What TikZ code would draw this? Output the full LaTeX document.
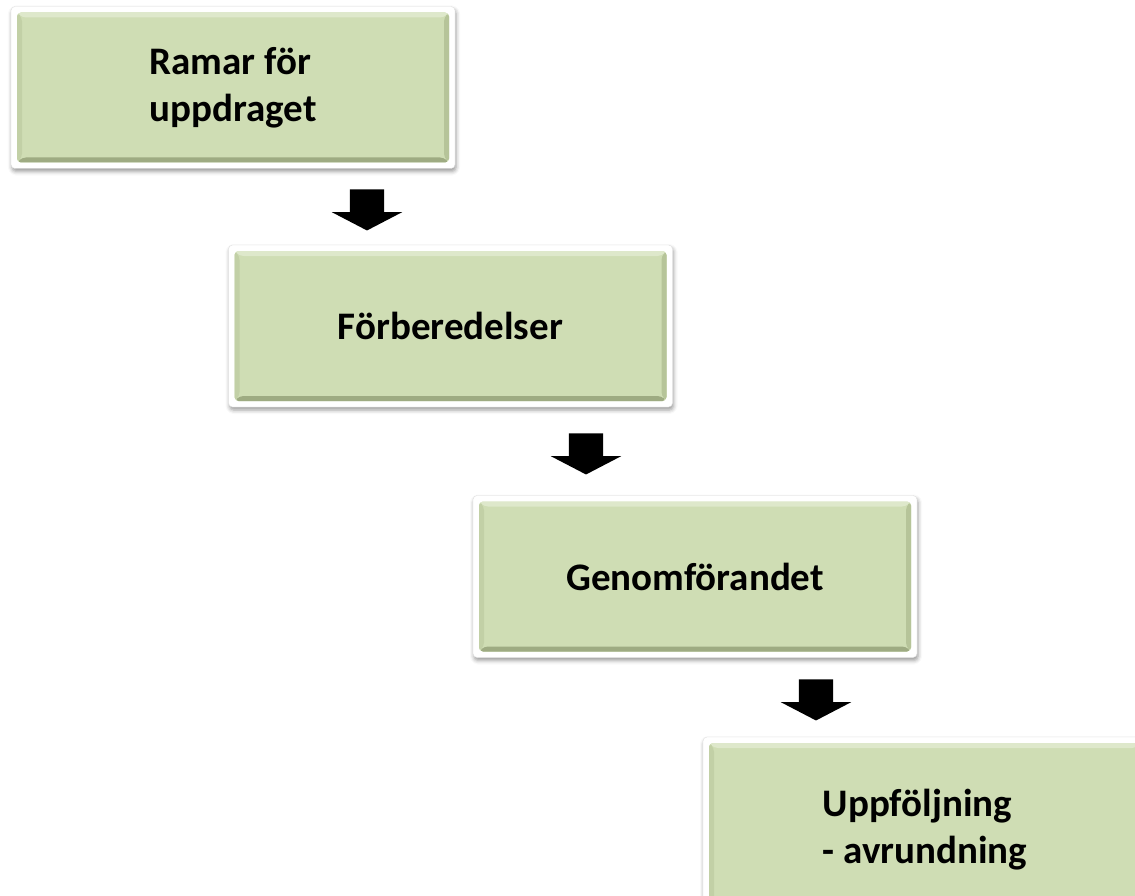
\documentclass[tikz,border=0pt]{standalone}
\usepackage{fontspec}
\setmainfont{Carlito}
\usepackage{xcolor}
\usepackage{tikz}
\usetikzlibrary{calc,shapes.arrows,shadows.blur}

\definecolor{boxgreen}{RGB}{207,221,180}
\definecolor{bevellight}{RGB}{222,232,203}
\definecolor{bevelleft}{RGB}{194,208,166}
\definecolor{bevelright}{RGB}{182,196,153}
\definecolor{beveldark}{RGB}{158,171,130}

\begin{document}
\begin{tikzpicture}[
    x=1pt, y=-1pt,
    font=\bfseries\fontsize{39}{47}\selectfont,
    stepbox/.style={rectangle, rounded corners=4pt, fill=white, draw=gray!25,
        minimum width=444pt, minimum height=162pt, inner sep=0pt, align=left,
        blur shadow={shadow xshift=1pt, shadow yshift=-3pt, shadow blur radius=4pt, shadow opacity=40},
        path picture={
            \coordinate (pa) at ([shift={(6pt,6pt)}]path picture bounding box.south west);
            \coordinate (pb) at ([shift={(-6pt,-6pt)}]path picture bounding box.north east);
            \coordinate (qa) at ($(pa)+(5pt,5pt)$);
            \coordinate (qb) at ($(pb)+(-5pt,-5pt)$);
            \fill[boxgreen] (pa) rectangle (pb);
            \fill[bevellight] (pa |- pb) -- (pb) -- (qb) -- (qa |- qb) -- cycle;
            \fill[beveldark] (pa) -- (pb |- pa) -- (qb |- qa) -- (qa) -- cycle;
            \fill[bevelleft] (pa) -- (pa |- pb) -- (qa |- qb) -- (qa) -- cycle;
            \fill[bevelright] (pb |- pa) -- (pb) -- (qb) -- (qb |- qa) -- cycle;
        }},
    downarrow/.style={single arrow, fill=black, draw=none, shape border rotate=270,
        minimum height=41pt, minimum width=70pt, single arrow head extend=18pt,
        single arrow tip angle=125, inner xsep=17pt, inner ysep=0pt}
]
\useasboundingbox (0,0) rectangle (1135,896);

\node[stepbox] (ramar) at (233,87.5) {Ramar för\\uppdraget};
\node[stepbox] (forb) at (450.5,326) {Förberedelser};
\node[stepbox] (genom) at (695,576.5) {Genomförandet};
\node[stepbox, minimum height=186pt] (uppf) at (925,830) {Uppföljning\\ - avrundning};

\node[downarrow] (pil1) at (367,205.5) {};
\node[downarrow] (pil2) at (586,449.5) {};
\node[downarrow] (pil3) at (816,695.5) {};
\end{tikzpicture}
\end{document}
